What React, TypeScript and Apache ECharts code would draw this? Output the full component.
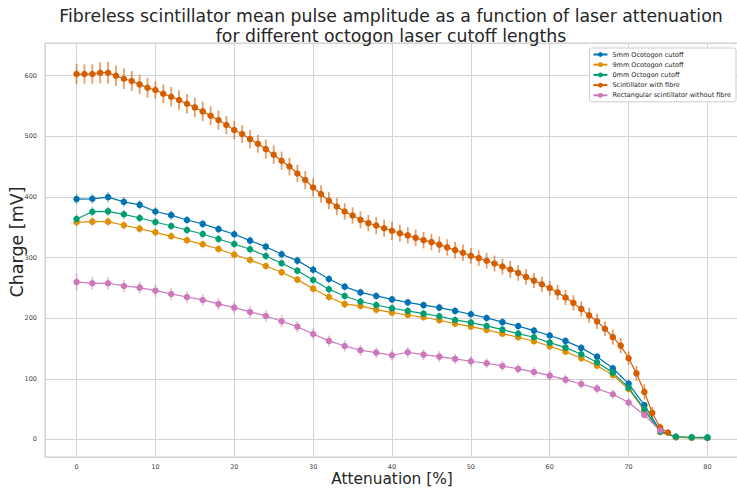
import React, { useEffect, useRef } from 'react';
import * as echarts from 'echarts';

const titleText =
  'Fibreless scintillator mean pulse amplitude as a function of laser attenuation\nfor different octogon laser cutoff lengths';
const xAxisName = 'Attenuation [%]';
const yAxisName = 'Charge [mV]';

const seriesNames = [
  '5mm Ocotogon cutoff',
  '9mm Ocotogon cutoff',
  '0mm Octogon cutoff',
  'Scintillator with fibre',
  'Rectangular scintillator without fibre',
];
const seriesColors = ['#0173B2', '#DE8F05', '#029E73', '#D55E00', '#CC78BC'];

// attenuation values (%)
const attenuationStep2 = [
  0, 2, 4, 6, 8, 10, 12, 14, 16, 18, 20, 22, 24, 26, 28, 30, 32, 34, 36, 38, 40,
  42, 44, 46, 48, 50, 52, 54, 56, 58, 60, 62, 64, 66, 68, 70, 72, 74, 76, 78, 80,
];
const attenuationRect = [
  0, 2, 4, 6, 8, 10, 12, 14, 16, 18, 20, 22, 24, 26, 28, 30, 32, 34, 36, 38, 40,
  42, 44, 46, 48, 50, 52, 54, 56, 58, 60, 62, 64, 66, 68, 70, 72, 74,
];
const attenuationFibre = [
  0, 1, 2, 3, 4, 5, 6, 7, 8, 9, 10, 11, 12, 13, 14, 15, 16, 17, 18, 19, 20, 21,
  22, 23, 24, 25, 26, 27, 28, 29, 30, 31, 32, 33, 34, 35, 36, 37, 38, 39, 40, 41,
  42, 43, 44, 45, 46, 47, 48, 49, 50, 51, 52, 53, 54, 55, 56, 57, 58, 59, 60, 61,
  62, 63, 64, 65, 66, 67, 68, 69, 70, 71, 72, 73, 74, 75,
];

// charge values (mV)
const charge5mm = [
  396.5, 397, 399.8, 392, 387, 376, 370, 362, 355.5, 347, 338.5, 328, 318, 305.5,
  295, 280, 264.7, 252, 242.5, 236.7, 231, 226, 221.5, 217.5, 212, 206.5, 200.4,
  193.5, 187, 179.5, 171.5, 162.5, 151, 136.5, 117.4, 92, 56.5, 14.5, 3.6, 3, 2.5,
];
const err5mm = [
  8, 8, 8.5, 8, 7.5, 7.5, 7.5, 7, 7, 7, 7, 7, 7, 7, 7, 7, 7, 6.5, 6.5, 6.5, 6.5,
  6.5, 6.5, 6.5, 6.5, 6.5, 6.5, 6, 6, 6, 6, 6, 6, 6, 6, 6, 5, 3, 2, 2, 2,
];
const charge9mm = [
  358.2, 359.3, 359.3, 353.3, 347.7, 341.7, 335.1, 328.5, 321.9, 314.2, 304.8,
  296, 286.2, 275.8, 263.6, 248.7, 235, 223.2, 220.2, 214.1, 209.2, 205.3, 201.5,
  196.6, 191, 186, 180.6, 174.5, 168.6, 162, 153.7, 144.8, 133.9, 121.7, 106.4,
  83.3, 48, 12.4, 3.5, 3, 2.7,
];
const err9mm = [
  7.5, 7.5, 7.5, 7, 7, 7, 7, 7, 7, 7, 7, 6.5, 6.5, 6.5, 6.5, 6.5, 6.5, 6.5, 6.5,
  6.5, 6.5, 6, 6, 6, 6, 6, 6, 6, 6, 6, 6, 6, 6, 6, 6, 5.5, 5, 3, 2, 2, 2,
];
const charge0mm = [
  363.7, 375.7, 376.3, 371.4, 365.3, 358.7, 352.1, 345.5, 338.9, 330.7, 322.4,
  313.7, 302.7, 290.6, 278.4, 263.1, 247.7, 236.7, 227.5, 221.8, 216.4, 212,
  207.5, 203.2, 197.1, 192.7, 187.2, 181.1, 174.5, 168.6, 159.7, 151.4, 140.5,
  127.3, 110.2, 85.4, 50, 12.9, 4.7, 3.6, 3.3,
];
const err0mm = [
  7.5, 7.5, 7.5, 7.5, 7, 7, 7, 7, 7, 7, 7, 7, 7, 6.5, 6.5, 6.5, 6.5, 6.5, 6.5,
  6.5, 6.5, 6.5, 6, 6, 6, 6, 6, 6, 6, 6, 6, 6, 6, 6, 6, 5.5, 5, 3, 2, 2, 2,
];
const chargeFibre = [
  602.8, 602.8, 602.8, 605, 605, 600, 595, 591.3, 585.7, 580.2, 576.4, 570.3,
  565.4, 559.9, 553.8, 547.7, 541.1, 534, 526.9, 518.7, 510.4, 503.8, 495.5,
  487.8, 479, 469.6, 459.7, 450.3, 438.8, 427.9, 415.6, 404.8, 393.7, 384.3, 376,
  369.4, 362.3, 356.9, 352.9, 348.3, 344.2, 340.2, 336.6, 332.6, 328.7, 325.5,
  321.4, 316.8, 312.3, 308, 302.9, 299.1, 294.7, 290.2, 285.2, 280.3, 274.7,
  268.1, 262, 255.9, 249.8, 242.5, 234.2, 225.3, 215.3, 204.7, 194.8, 182.6,
  168.7, 154.8, 134, 109, 78.4, 43.7, 19.8, 11.2,
];
const errFibre = [
  17, 16, 16, 17.5, 18, 17, 17, 16.5, 16, 16, 14.5, 15.5, 16, 16, 16, 16, 16,
  15.5, 15.5, 15, 15, 14.5, 15, 15, 15.5, 15, 15, 14.5, 14.5, 15, 15, 14.5, 14,
  14, 13.5, 13.5, 14, 13.5, 14, 14, 15, 14, 13.5, 13.5, 13.5, 13.5, 13.5, 13.5,
  14, 13.5, 13, 13, 13, 13, 13, 14, 13, 13, 12.5, 12.5, 12, 12.5, 12.5, 12.5,
  12.5, 12.5, 12.5, 12.5, 12.5, 12.5, 11, 12.5, 12.5, 10, 6.5, 4.5,
];
const chargeRect = [
  259.8, 257.6, 257.6, 253.2, 250.4, 245.4, 240, 235, 230.1, 223.5, 217.4, 210.3,
  203.7, 194.9, 186, 174, 162.5, 154.2, 147.1, 143.2, 138.9, 143.8, 139.9, 136.6,
  132.8, 129, 125.7, 121.2, 116.3, 111.3, 105.2, 98.6, 91.5, 83.8, 74.5, 61, 40.4,
  14.8,
];
const errRect = [
  14, 11, 10.5, 10, 10, 10, 10, 10, 10, 10, 10, 10, 10, 10, 9.5, 9, 9, 9, 9, 9,
  9, 9, 9, 9, 8.5, 8.5, 8.5, 8.5, 8, 8, 8, 8, 8, 8, 7.5, 7, 5, 3,
];

const xTicks = [0, 10, 20, 30, 40, 50, 60, 70, 80];
const yTicks = [0, 100, 200, 300, 400, 500, 600];

const FONT = 'DejaVu Sans';

function zip(xs: number[], ys: number[], es?: number[]) {
  return xs.map((x, i) => (es ? [x, ys[i], es[i]] : [x, ys[i]]));
}

export default function App() {
  const ref = useRef<HTMLDivElement>(null);

  useEffect(() => {
    if (!ref.current) return;
    const chart = echarts.init(ref.current, undefined, { renderer: 'svg' });

    const groups = [
      { x: attenuationStep2, y: charge5mm, e: err5mm, bw: 1.6, ba: 0.45 },
      { x: attenuationStep2, y: charge9mm, e: err9mm, bw: 1.6, ba: 0.45 },
      { x: attenuationStep2, y: charge0mm, e: err0mm, bw: 1.6, ba: 0.45 },
      { x: attenuationFibre, y: chargeFibre, e: errFibre, bw: 1.8, ba: 0.6 },
      { x: attenuationRect, y: chargeRect, e: errRect, bw: 1.6, ba: 0.5 },
    ];

    const series: any[] = [];
    groups.forEach((g, i) => {
      const color = seriesColors[i];
      series.push({
        name: seriesNames[i] + ' error',
        type: 'custom',
        silent: true,
        data: zip(g.x, g.y, g.e),
        encode: { x: 0, y: 1 },
        renderItem: (_params: any, api: any) => {
          const x = api.value(0);
          const y = api.value(1);
          const e = api.value(2);
          const p1 = api.coord([x, y - e]);
          const p2 = api.coord([x, y + e]);
          return {
            type: 'line',
            shape: { x1: p1[0], y1: p1[1], x2: p2[0], y2: p2[1] },
            style: { stroke: color, lineWidth: g.bw, opacity: g.ba },
          };
        },
      });
      series.push({
        name: seriesNames[i],
        type: 'line',
        data: zip(g.x, g.y),
        symbol: 'circle',
        symbolSize: 6.5,
        showSymbol: true,
        color,
        itemStyle: { color },
        lineStyle: { color, width: 1.2 },
      });
    });

    chart.setOption({
      animation: false,
      backgroundColor: '#ffffff',
      textStyle: { fontFamily: FONT },
      title: {
        text: titleText,
        left: 386,
        top: 1.5,
        textAlign: 'center',
        textStyle: {
          fontFamily: FONT,
          fontSize: 17.3,
          fontWeight: 'normal',
          color: '#262626',
          lineHeight: 19.5,
        },
      },
      graphic: [
        {
          type: 'text',
          x: 16.5,
          y: 242,
          rotation: Math.PI / 2,
          style: {
            text: yAxisName,
            align: 'center',
            verticalAlign: 'middle',
            fontFamily: FONT,
            fontSize: 17.5,
            fill: '#262626',
          },
        },
      ],
      legend: {
        data: seriesNames,
        orient: 'vertical',
        right: 1,
        top: 48,
        itemWidth: 14,
        itemHeight: 6,
        itemGap: 3.2,
        padding: [3, 5, 3, 3],
        backgroundColor: '#ffffff',
        borderColor: '#cccccc',
        borderWidth: 1,
        borderRadius: 2,
        textStyle: { fontFamily: FONT, fontSize: 6.5, color: '#262626' },
      },
      grid: {
        left: 45,
        top: 43,
        right: -2,
        bottom: 32,
        outerBoundsMode: 'none',
        containLabel: false,
        show: true,
        borderColor: '#cccccc',
        borderWidth: 1,
        backgroundColor: '#ffffff',
      },
      xAxis: {
        type: 'value',
        min: -4,
        max: 84,
        minInterval: 10,
        maxInterval: 10,
        splitNumber: 9,
        name: xAxisName,
        nameLocation: 'middle',
        nameGap: 14,
        nameMoveOverlap: false,
        nameTextStyle: { fontFamily: FONT, fontSize: 15.4, color: '#262626' },
        axisLine: { show: false },
        axisTick: { show: false },
        axisLabel: {
          fontFamily: FONT,
          fontSize: 6.5,
          color: '#444444',
          margin: 6,
          formatter: (v: number) => (xTicks.includes(v) ? String(v) : ''),
        },
        splitLine: { show: true, lineStyle: { color: '#d4d4d4', width: 1 } },
      },
      yAxis: {
        type: 'value',
        min: -29,
        max: 654,
        minInterval: 100,
        maxInterval: 100,
        axisLine: { show: false },
        axisTick: { show: false },
        axisLabel: {
          fontFamily: FONT,
          fontSize: 6.5,
          color: '#444444',
          margin: 8,
          formatter: (v: number) => (yTicks.includes(v) ? String(v) : ''),
        },
        splitLine: { show: true, lineStyle: { color: '#d4d4d4', width: 1 } },
      },
      series,
    });

    return () => chart.dispose();
  }, []);

  return (
    <div
      ref={ref}
      style={{ position: 'absolute', left: 0, top: 0, width: 737, height: 489, background: '#fff' }}
    />
  );
}
